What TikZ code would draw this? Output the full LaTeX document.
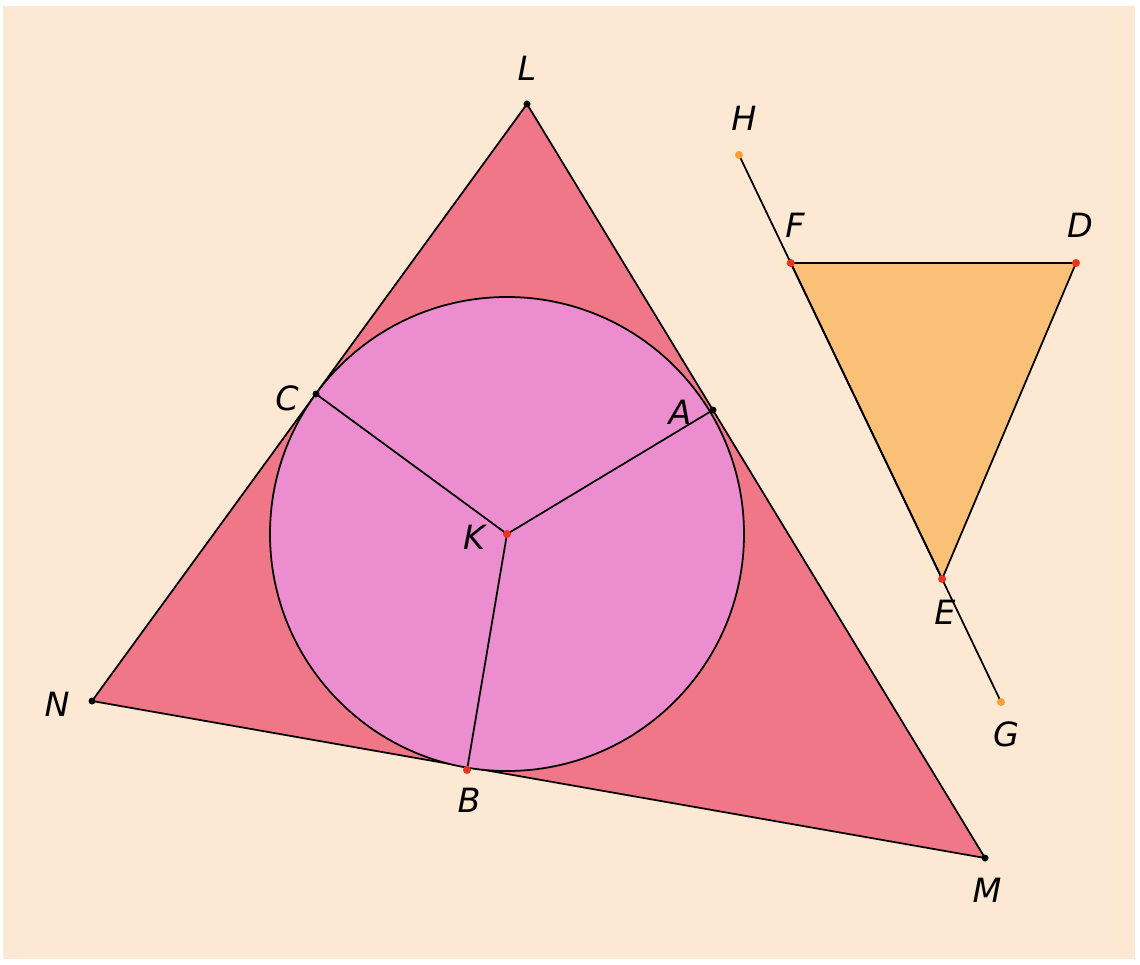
\documentclass[tikz,border=0pt]{standalone}
\usepackage{fontspec}
\setmainfont{DejaVu Sans}
\usetikzlibrary{positioning}
\definecolor{bgpeach}{RGB}{253,233,211}
\definecolor{trired}{RGB}{240,119,135}
\definecolor{circpink}{RGB}{236,141,208}
\definecolor{triorange}{RGB}{251,192,120}
\definecolor{ptred}{RGB}{232,52,30}
\definecolor{ptorange}{RGB}{248,160,50}
\tikzset{
  seg/.style={draw=black,line width=0.5pt},
  lbl/.style={font=\fontsize{9.5}{11}\selectfont\itshape,inner sep=0pt},
  dot/.style={fill=#1},
}
\begin{document}
\begin{tikzpicture}[x=0.01cm,y=-0.01cm]
  % background
  \fill[white] (0,0) rectangle (1140,964);
  \fill[bgpeach] (3,6) rectangle (1135,959);

  % points
  \coordinate (L) at (527,104);
  \coordinate (M) at (985,858);
  \coordinate (N) at (92,701);
  \coordinate (K) at (507,534);
  \coordinate (C) at (316,394);
  \coordinate (A) at (713,410);
  \coordinate (B) at (467,770);
  \coordinate (H) at (739,155);
  \coordinate (F) at (790.7,263);
  \coordinate (D) at (1076,263);
  \coordinate (E) at (942.1,579);
  \coordinate (G) at (1001,702);

  % big triangle and incircle
  \filldraw[seg,fill=trired] (L) -- (M) -- (N) -- cycle;
  \filldraw[seg,fill=circpink] (K) circle[radius=237];
  \draw[seg] (K) -- (C);
  \draw[seg] (K) -- (A);
  \draw[seg] (K) -- (B);

  % small triangle
  \filldraw[seg,fill=triorange] (F) -- (D) -- (E) -- cycle;
  \draw[seg] (H) -- (G);

  % dots
  \foreach \p in {L,M,N,C,A}
    \fill[dot=black] (\p) circle[radius=3.5];
  \foreach \p in {K,B,F,D,E}
    \fill[dot=ptred] (\p) circle[radius=4];
  \foreach \p in {H,G}
    \fill[dot=ptorange] (\p) circle[radius=4];

  % labels
  \node[lbl] (tL) at (527,68) {L};
  \node[lbl] (tM) at (987,890) {M};
  \node[lbl] (tN) at (57,704) {N};
  \node[lbl] (tK) at (474,537) {K};
  \node[lbl] (tC) at (287,398) {C};
  \node[lbl] (tA) at (680,412) {A};
  \node[lbl] (tB) at (469,800) {B};
  \node[lbl] (tH) at (744,118) {H};
  \node[lbl] (tF) at (795,225) {F};
  \node[lbl] (tD) at (1080,225) {D};
  \node[lbl] (tE) at (945,612) {E};
  \node[lbl] (tG) at (1006,734) {G};
\end{tikzpicture}
\end{document}
